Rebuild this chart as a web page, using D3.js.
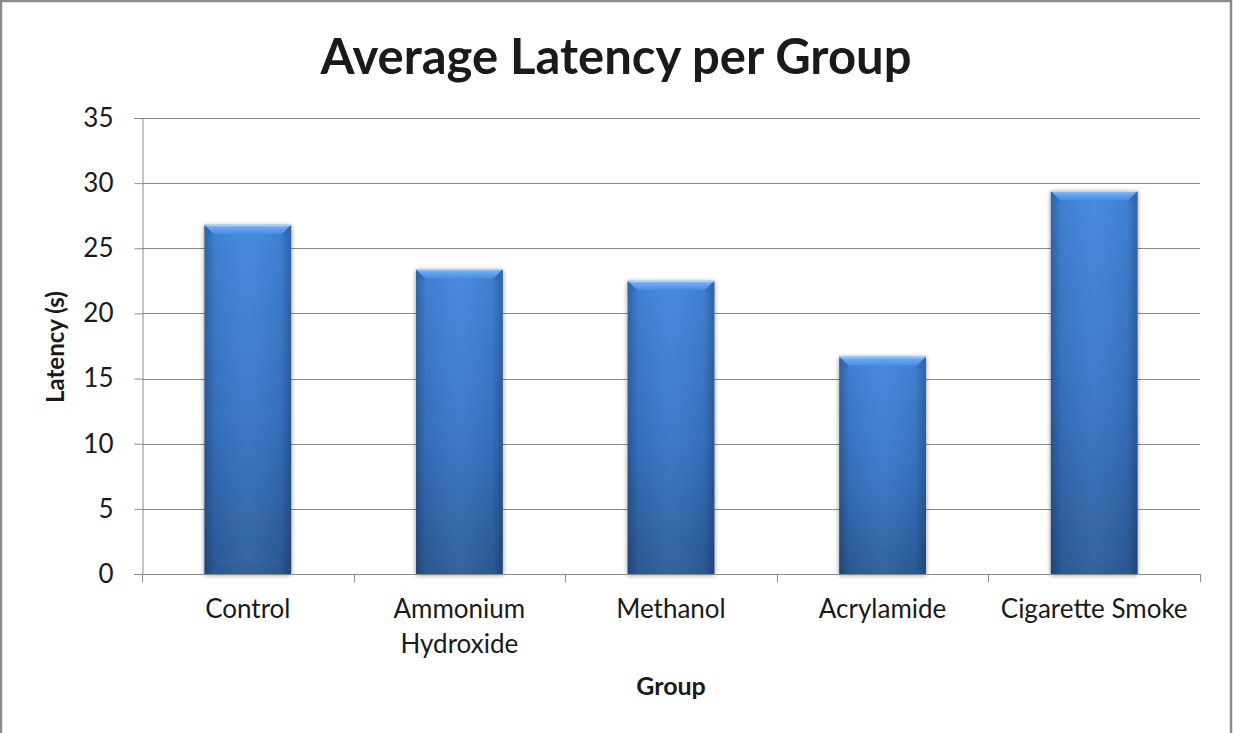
<!DOCTYPE html>
<html>
<head>
<meta charset="utf-8">
<script src="https://cdn.jsdelivr.net/npm/d3@7"></script>
<style>
  html, body { margin: 0; padding: 0; background: #fff; }
  svg { display: block; }
  text { font-family: Lato, "Open Sans", sans-serif; fill: #1a1a1a; }
</style>
</head>
<body>
<script>
// Average latency (seconds) for each exposure group
const groups = ["Control", "Ammonium Hydroxide", "Methanol", "Acrylamide", "Cigarette Smoke"];
const latency = [26.8, 23.4, 22.5, 16.7, 29.4];
const yTicks = [0, 5, 10, 15, 20, 25, 30, 35];

const W = 1233, H = 733;
const plot = { left: 142, right: 1200, top: 118, bottom: 574 };

const svg = d3.select("body").append("svg").attr("width", W).attr("height", H);
const defs = svg.append("defs");

// Bar body: vertical blue gradient
const gBody = defs.append("linearGradient").attr("id", "barBody")
  .attr("x1", 0).attr("y1", 0).attr("x2", 0).attr("y2", 1);
gBody.append("stop").attr("offset", "0%").attr("stop-color", "#4287dc");
gBody.append("stop").attr("offset", "55%").attr("stop-color", "#3874c4");
gBody.append("stop").attr("offset", "100%").attr("stop-color", "#2c5c9b");

// Side shading: darker toward the left and right edges
const gSide = defs.append("linearGradient").attr("id", "barSide")
  .attr("x1", 0).attr("y1", 0).attr("x2", 1).attr("y2", 0);
gSide.append("stop").attr("offset", "0%").attr("stop-color", "#000").attr("stop-opacity", 0.26);
gSide.append("stop").attr("offset", "12%").attr("stop-color", "#000").attr("stop-opacity", 0.05);
gSide.append("stop").attr("offset", "50%").attr("stop-color", "#fff").attr("stop-opacity", 0.04);
gSide.append("stop").attr("offset", "88%").attr("stop-color", "#000").attr("stop-opacity", 0.05);
gSide.append("stop").attr("offset", "100%").attr("stop-color", "#000").attr("stop-opacity", 0.26);

// Top bevel highlight
const gBevel = defs.append("linearGradient").attr("id", "barBevel")
  .attr("x1", 0).attr("y1", 0).attr("x2", 0).attr("y2", 1);
gBevel.append("stop").attr("offset", "0%").attr("stop-color", "#8cc2fa");
gBevel.append("stop").attr("offset", "40%").attr("stop-color", "#63a5f0");
gBevel.append("stop").attr("offset", "100%").attr("stop-color", "#4a8ee4");

// Soft shadow around bars
const shadow = defs.append("filter").attr("id", "barShadow")
  .attr("x", "-20%").attr("y", "-5%").attr("width", "140%").attr("height", "115%");
shadow.append("feGaussianBlur").attr("in", "SourceAlpha").attr("stdDeviation", 2.5).attr("result", "blur");
shadow.append("feOffset").attr("in", "blur").attr("dx", 0).attr("dy", 1).attr("result", "off");
shadow.append("feComponentTransfer").attr("in", "off").attr("result", "soft")
  .append("feFuncA").attr("type", "linear").attr("slope", 0.45);
const merge = shadow.append("feMerge");
merge.append("feMergeNode").attr("in", "soft");
merge.append("feMergeNode").attr("in", "SourceGraphic");

// Chart frame
svg.append("rect").attr("x", 1).attr("y", 1).attr("width", W - 3).attr("height", H + 10)
  .attr("fill", "#fff").attr("stroke", "#8c8c8c").attr("stroke-width", 2.5);

const x = d3.scaleBand().domain(groups).range([plot.left, plot.right]).paddingInner(0).paddingOuter(0);
const y = d3.scaleLinear().domain([0, 35]).range([plot.bottom, plot.top]);

// Horizontal gridlines
svg.append("g").selectAll("line").data(yTicks.filter(d => d > 0)).join("line")
  .attr("x1", plot.left).attr("x2", plot.right)
  .attr("y1", d => Math.round(y(d)) + 0.5).attr("y2", d => Math.round(y(d)) + 0.5)
  .attr("stroke", "#8a8a8a").attr("stroke-width", 1);

// Y axis
const yAxis = svg.append("g").attr("transform", `translate(${plot.left + 0.5},0)`)
  .call(d3.axisLeft(y).tickValues(yTicks).tickSize(8).tickPadding(21).tickFormat(d3.format("d")));
yAxis.select(".domain").attr("stroke", "#8a8a8a");
yAxis.selectAll(".tick line").attr("stroke", "#8a8a8a");
yAxis.selectAll(".tick text").attr("font-size", 26).attr("fill", "#1a1a1a")
  .style("font-family", "Lato, sans-serif");

// Bars
const bw = x.bandwidth() * 0.41;
const bars = svg.append("g").selectAll("g").data(groups).join("g")
  .attr("transform", (d, i) => `translate(${x(d) + (x.bandwidth() - bw) / 2},${y(latency[i])})`);
bars.append("rect").attr("width", bw).attr("height", (d, i) => y(0) - y(latency[i]))
  .attr("fill", "url(#barBody)").attr("filter", "url(#barShadow)");
bars.append("rect").attr("width", bw).attr("height", (d, i) => y(0) - y(latency[i]))
  .attr("fill", "url(#barSide)");
const bev = 9;
bars.append("path")
  .attr("d", `M0,0 L${bw},0 L${bw - bev},${bev} L${bev},${bev} Z`)
  .attr("fill", "url(#barBevel)");
bars.append("path")
  .attr("d", `M0,0 L${bev},${bev} L${bev},${bev + 2} L0,${bev + 4} Z`)
  .attr("fill", "#2f66b0").attr("opacity", 0.35);
bars.append("path")
  .attr("d", `M${bw},0 L${bw - bev},${bev} L${bw - bev},${bev + 2} L${bw},${bev + 4} Z`)
  .attr("fill", "#2f66b0").attr("opacity", 0.35);
bars.append("line").attr("x1", 0).attr("x2", bw).attr("y1", 0.5).attr("y2", 0.5)
  .attr("stroke", "#b9d8fb").attr("stroke-width", 1);

// X axis with ticks between categories
const xAxisG = svg.append("g");
xAxisG.append("line").attr("x1", plot.left).attr("x2", plot.right)
  .attr("y1", plot.bottom + 0.5).attr("y2", plot.bottom + 0.5).attr("stroke", "#8a8a8a");
const bounds = groups.map(g => x(g)).concat([plot.right]);
xAxisG.selectAll("line.tick").data(bounds).join("line").attr("class", "tick")
  .attr("x1", d => Math.round(d) + 0.5).attr("x2", d => Math.round(d) + 0.5)
  .attr("y1", plot.bottom).attr("y2", plot.bottom + 8).attr("stroke", "#8a8a8a");

// Category labels (wrapped onto two lines where needed)
const labelLines = { "Ammonium Hydroxide": ["Ammonium", "Hydroxide"] };
groups.forEach(g => {
  const lines = labelLines[g] || [g];
  const t = svg.append("text").attr("text-anchor", "middle")
    .attr("x", x(g) + x.bandwidth() / 2).attr("y", 618).attr("font-size", 26);
  lines.forEach((ln, k) => t.append("tspan").attr("x", x(g) + x.bandwidth() / 2)
    .attr("dy", k === 0 ? 0 : 35).text(ln));
});

// Titles
svg.append("text").attr("x", 616).attr("y", 74).attr("text-anchor", "middle")
  .attr("font-size", 49).attr("font-weight", 700).attr("fill", "#000")
  .text("Average Latency per Group");
svg.append("text").attr("x", 671).attr("y", 695).attr("text-anchor", "middle")
  .attr("font-size", 25).attr("font-weight", 700).text("Group");
svg.append("text").attr("transform", "translate(64,347) rotate(-90)").attr("text-anchor", "middle")
  .attr("font-size", 24).attr("font-weight", 700).text("Latency (s)");
</script>
</body>
</html>
